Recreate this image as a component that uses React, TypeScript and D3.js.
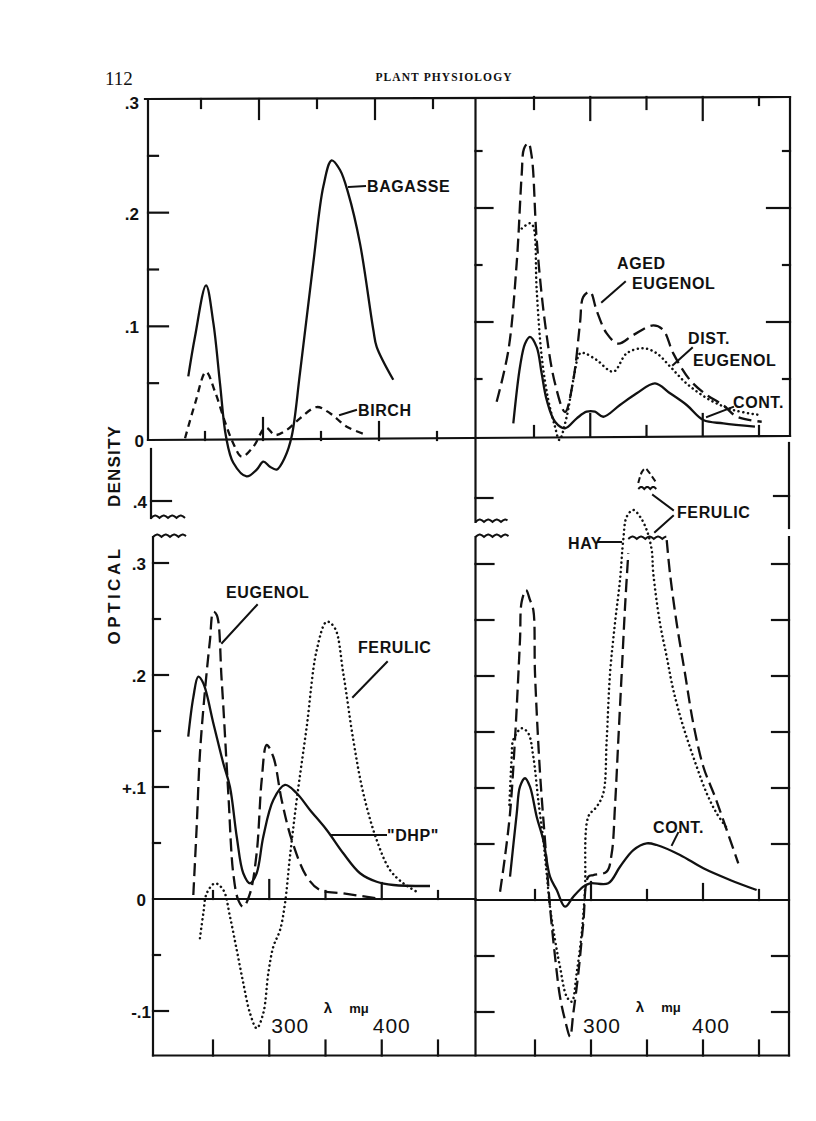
import React from "react";
import * as d3 from "d3";

type Pt = [number, number];

// ---------------- DATA (wavelength in mμ, optical density) ----------------
const wavelengthTicks = [250, 300, 350, 400, 450];
const wavelengthLabels = [300, 400];
const topDensityTicks = [0.05, 0.1, 0.15, 0.2, 0.25];
const topDensityLabels: [number, string][] = [[0.3, ".3"], [0.2, ".2"], [0.1, ".1"], [0, "0"]];
const bottomDensityTicks = [-0.1, -0.05, 0.05, 0.1, 0.15, 0.2, 0.25, 0.3];
const bottomDensityLabels: [number, string][] = [[0.3, ".3"], [0.2, ".2"], [0.1, "+.1"], [0, "0"], [-0.1, "-.1"]];
const breakDensity = 0.4;

// Top-left panel
const bagasse: Pt[] = [
  [235.6, 0.056], [241.4, 0.091], [250.9, 0.136], [257.2, 0.103], [262.9, 0.05], [268.1, 0.003],
  [274.4, -0.02], [285.9, -0.032], [294.6, -0.026], [300.3, -0.019], [306, -0.0235], [311.8, -0.026],
  [319, -0.015], [324.7, 0.003], [331.9, 0.059], [343.4, 0.156], [352, 0.223], [359.2, 0.246],
  [366.4, 0.2375], [373.5, 0.217], [383.6, 0.173], [395.1, 0.097], [398, 0.082], [412.3, 0.053],
];
const birch: Pt[] = [
  [232.8, 0.0015], [241.4, 0.032], [250.9, 0.06], [258.6, 0.0425], [267.2, 0.016], [274.4, -0.003],
  [281.6, -0.0147], [291.6, -0.006], [302.3, 0.011], [310.3, 0.0044], [320.4, 0.0088], [331.9, 0.019],
  [346.3, 0.029], [357.8, 0.0235], [372.2, 0.0117], [389.4, 0.0044],
];

// Top-right panel
const agedEugenol: Pt[] = [
  [216.8, 0.03], [227.2, 0.075], [234.6, 0.1515], [239.1, 0.23], [241.1, 0.252], [244.9, 0.257],
  [248, 0.245], [252.4, 0.172], [259.8, 0.099], [268.7, 0.046], [277.6, 0.021], [284.9, 0.049],
  [290.9, 0.099], [293.8, 0.122], [299.8, 0.1266], [305.7, 0.11], [314.6, 0.09], [324.9, 0.081],
  [338.3, 0.0886], [356, 0.097], [364.9, 0.093], [373.8, 0.0725], [388.7, 0.049], [403.5, 0.036],
  [418.3, 0.027], [430.2, 0.017], [452.4, 0.0125],
];
const distEugenol: Pt[] = [
  [239.1, 0.182], [246.4, 0.1866], [249.4, 0.1836], [252.4, 0.128], [256.8, 0.07], [262.7, 0.0316],
  [268.7, 0.008], [272.5, -0.0035], [279.1, 0.017], [284.9, 0.049], [290.9, 0.0725], [295.3, 0.0725],
  [305.7, 0.0667], [320.5, 0.0564], [332.4, 0.0725], [347.2, 0.077], [359.1, 0.0725], [370.9, 0.061],
  [385.7, 0.046], [406.4, 0.0316], [427.2, 0.0228], [450.9, 0.0184],
];
const contTop: Pt[] = [
  [231.6, 0.011], [237.6, 0.061], [242, 0.081], [246.4, 0.087], [252.4, 0.078], [256.8, 0.055],
  [261.3, 0.0316], [268.7, 0.0125], [277.6, 0.0068], [288, 0.0155], [296.8, 0.0213], [304.2, 0.0213],
  [311.6, 0.0169], [326.4, 0.0272], [341.3, 0.0375], [357.6, 0.0462], [370.9, 0.0375], [385.7, 0.0272],
  [400.5, 0.014], [418.3, 0.0111], [446.4, 0.0082],
];

// Bottom-left panel
const eugenol: Pt[] = [
  [232.5, 0.0036], [235.5, 0.0646], [238.4, 0.13], [242.9, 0.1866], [247.3, 0.231], [250.3, 0.2565],
  [253.3, 0.2536], [257.7, 0.1955], [263.6, 0.0943], [268, 0.0229], [272.5, -0.001], [276.9, -0.007],
  [282.9, 0.005], [288.8, 0.0408], [293.3, 0.1063], [297.7, 0.1375], [303.6, 0.127], [311.1, 0.088],
  [320, 0.0527], [333.3, 0.02], [345.1, 0.008], [365.8, 0.005], [395.5, 0.0006],
];
const dhp: Pt[] = [
  [228, 0.145], [232.5, 0.18], [236.9, 0.1985], [241.4, 0.1926], [250.3, 0.157], [259.2, 0.121],
  [265.1, 0.1], [271.1, 0.0556], [276.9, 0.023], [282.9, 0.014], [288.8, 0.023], [294.7, 0.0556],
  [303.6, 0.0884], [314, 0.1018], [324.4, 0.0944], [336.2, 0.0795], [351.1, 0.0616], [365.8, 0.0408],
  [380.7, 0.023], [395.5, 0.0154], [410.3, 0.0125], [442.9, 0.0116],
];
const ferulicLeft: Pt[] = [
  [238.4, -0.035], [241.4, -0.0128], [244.4, 0.005], [251.8, 0.014], [259.2, 0.008], [265.1, -0.0158],
  [271.1, -0.0455], [276.9, -0.075], [282.9, -0.102], [288.8, -0.1154], [294.7, -0.102], [299.2, -0.066],
  [303.6, -0.0426], [309.6, -0.0277], [314, -0.0038], [318.4, 0.0378], [324.4, 0.0884], [333.3, 0.1538],
  [342.2, 0.2223], [351.1, 0.2476], [358.4, 0.2417], [365.8, 0.2015], [374.7, 0.142], [383.6, 0.0944],
  [395.5, 0.0527], [407.3, 0.0259], [419.2, 0.014], [431.1, 0.0065],
];

// Bottom-right panel
const hay: Pt[] = [
  [227.1, 0.085], [229.2, 0.128], [230.6, 0.143], [238.1, 0.1533], [244, 0.1488], [248.5, 0.128],
  [252.9, 0.0893], [257.4, 0.0536], [260.4, 0.0238], [263.4, -0.006], [267.9, -0.0357], [272.3, -0.0596],
  [278.3, -0.0863], [282.8, -0.0908], [287.2, -0.0654], [291.7, -0.0297], [294.6, 0.0089], [297.6, 0.0744],
  [305.1, 0.0833], [311, 0.0953], [314, 0.1429], [317, 0.2024], [321.4, 0.2471], [325.9, 0.2857],
  [328.8, 0.3214], [331.9, 0.3422], [337.8, 0.3482], [343.8, 0.3422], [349.7, 0.3304], [354.2, 0.3125],
  [355.6, 0.2917], [361.6, 0.2471], [367.6, 0.2172], [373.5, 0.1875], [382.4, 0.1547], [394.4, 0.119],
  [403.3, 0.0953], [412.2, 0.0774], [422.6, 0.0625],
];
const ferulicRise: Pt[] = [
  [218.8, 0.0074], [223.2, 0.0387], [227.7, 0.0774], [232.1, 0.1429], [236.6, 0.2321], [238.1, 0.2663],
  [242, 0.2768], [245.5, 0.2679], [248.5, 0.2589], [250, 0.2024], [254.5, 0.1131], [258.9, 0.0536],
  [263.4, -0.006], [267.9, -0.0506], [272.3, -0.0863], [276.8, -0.1071], [281.3, -0.122], [284.2, -0.1012],
  [288.7, -0.0654], [293.1, -0.0208], [297.6, 0.0208], [302.1, 0.0223], [314, 0.0253], [318.5, 0.0417],
  [321.4, 0.0833], [324.4, 0.1429], [327.4, 0.2024], [330.4, 0.2619], [333.3, 0.3095],
];
const ferulicFall: Pt[] = [
  [367.6, 0.3214], [370.5, 0.2917], [376.5, 0.2471], [383.9, 0.2024], [391.3, 0.1578], [400.3, 0.119],
  [410.7, 0.0922], [421.2, 0.0625], [431.5, 0.0328],
];
const ferulicPeakCap: Pt[] = [[342.2, 0.416], [345.5, 0.426], [348.5, 0.429], [351.5, 0.426], [358.5, 0.416]];
const contBottom: Pt[] = [
  [227.7, 0.0208], [233.7, 0.0774], [236.6, 0.1012], [241.1, 0.1087], [245.5, 0.1012], [251.5, 0.0744],
  [257.4, 0.0536], [263.4, 0.0208], [269.4, 0.0089], [276.8, -0.006], [284.2, 0.0029], [293.1, 0.0119],
  [299.1, 0.0149], [315.4, 0.0149], [325.9, 0.0297], [337.8, 0.0446], [349.7, 0.0506], [358.7, 0.0491],
  [379.5, 0.0402], [400.3, 0.0283], [424.1, 0.0179], [447.9, 0.0089],
];

// ---------------- LAYOUT ----------------
const INK = "#111";
const SW = 2.3;
const SANS = "'Liberation Sans', Arial, Helvetica, sans-serif";
const SERIF = "'Liberation Serif', 'Times New Roman', serif";

const xTL = d3.scaleLinear().domain([250, 450]).range([205, 437]);
const yTL = d3.scaleLinear().domain([0, 0.3]).range([440, 99]);
const xTR = d3.scaleLinear().domain([250, 450]).range([534, 759]);
const yTR = d3.scaleLinear().domain([0, 0.3]).range([436, 94]);
const xBL = d3.scaleLinear().domain([250, 450]).range([213, 438]);
const yBL = d3.scaleLinear().domain([0, 0.3]).range([899, 563]);
const xBR = d3.scaleLinear().domain([250, 450]).range([535, 759]);
const yBR = d3.scaleLinear().domain([0, 0.3]).range([900, 564]);
const yBreak = d3.scaleLinear().domain([0.4, 0.43]).range([501, 467.4]);

const L = { tlLeft: 148, brLeft: 153, mid: 475.5, right: 790, top: 98, bottom: 1055.5 };

function mkLine(x: d3.ScaleLinear<number, number>, y: d3.ScaleLinear<number, number>) {
  return d3
    .line<Pt>()
    .x((d) => x(d[0]))
    .y((d) => y(d[1]))
    .curve(d3.curveCatmullRom.alpha(0.5));
}

function wavy(x0: number, x1: number, y0: number, amp = 2.4, period = 8.5) {
  const pts: [number, number][] = [];
  for (let x = x0; x <= x1; x += 0.5) {
    pts.push([x, y0 - amp * Math.abs(Math.sin((Math.PI * (x - x0)) / period))]);
  }
  return d3.line()(pts) || "";
}

const styles: Record<string, React.SVGProps<SVGPathElement>> = {
  solid: { stroke: INK, strokeWidth: SW, fill: "none", strokeLinejoin: "round" },
  longDash: { stroke: INK, strokeWidth: SW, fill: "none", strokeDasharray: "13 6" },
  shortDash: { stroke: INK, strokeWidth: SW, fill: "none", strokeDasharray: "7 5" },
  dotted: { stroke: INK, strokeWidth: 2.5, fill: "none", strokeDasharray: "0.1 4.6", strokeLinecap: "round" },
};

const Seg = ({ x1, y1, x2, y2, w = 2.2 }: any) => (
  <line x1={x1} y1={y1} x2={x2} y2={y2} stroke={INK} strokeWidth={w} strokeLinecap="square" />
);

const Label = ({ x, y, children, size = 16, anchor = "start", weight = 700, ls = 0.6 }: any) => (
  <text x={x} y={y} fontFamily={SANS} fontSize={size} fontWeight={weight} textAnchor={anchor} letterSpacing={ls} fill={INK}>
    {children}
  </text>
);

export default function App() {
  const lTL = mkLine(xTL, yTL);
  const lTR = mkLine(xTR, yTR);
  const lBL = mkLine(xBL, yBL);
  const lBR = mkLine(xBR, yBR);
  const lCap = mkLine(xBR, yBreak);

  const isMajor = (v: number) => v === 300 || v === 400;
  const isTenth = (v: number) => Math.abs(Math.round(v * 10) - v * 10) < 1e-6;

  return (
    <svg width={816} height={1121} style={{ position: "absolute", left: 0, top: 0, background: "#fff" }}>
      <rect width={816} height={1121} fill="#fff" />

      {/* header */}
      <text x={105} y={85} fontFamily={SERIF} fontSize={19} fill={INK}>112</text>
      <text x={444} y={81} fontFamily={SERIF} fontSize={11.5} fontWeight={700} letterSpacing={1.1} textAnchor="middle" fill={INK}>
        PLANT PHYSIOLOGY
      </text>

      {/* frame */}
      <Seg x1={145} y1={yTL(0.3)} x2={L.right} y2={yTR(0.3) + 3} />
      <Seg x1={L.tlLeft} y1={yTL(0.3)} x2={L.tlLeft} y2={yTL(0)} />
      <Seg x1={L.tlLeft} y1={yTL(0)} x2={L.right} y2={yTR(0)} />
      <Seg x1={L.mid} y1={yTL(0.3)} x2={L.mid} y2={522} />
      <Seg x1={L.mid} y1={537} x2={L.mid} y2={L.bottom} />
      <Seg x1={L.right} y1={yTR(0.3) + 3} x2={L.right} y2={yTR(0)} />
      <Seg x1={L.right - 1} y1={443} x2={L.right - 1} y2={528} />
      <Seg x1={L.right - 1} y1={537} x2={L.right - 1} y2={L.bottom} />
      <Seg x1={L.brLeft - 2} y1={449} x2={L.brLeft - 2} y2={518} />
      <Seg x1={L.brLeft} y1={537} x2={L.brLeft} y2={L.bottom} />
      <Seg x1={L.brLeft} y1={L.bottom} x2={L.right - 1} y2={L.bottom} />
      <Seg x1={L.brLeft} y1={yBL(0)} x2={L.mid} y2={yBL(0)} />
      <Seg x1={L.mid} y1={yBR(0)} x2={L.right - 1} y2={yBR(0)} />

      {/* axis breaks */}
      <path d={wavy(L.brLeft - 2, L.brLeft + 32, 518)} stroke={INK} strokeWidth={2} fill="none" />
      <path d={wavy(L.brLeft, L.brLeft + 33, 537)} stroke={INK} strokeWidth={2} fill="none" />
      <path d={wavy(L.mid, L.mid + 32, 522)} stroke={INK} strokeWidth={2} fill="none" />
      <path d={wavy(L.mid, L.mid + 33, 537)} stroke={INK} strokeWidth={2} fill="none" />

      {/* break ticks (.4) */}
      <Seg x1={L.brLeft - 2} y1={yBreak(breakDensity)} x2={L.brLeft + 18} y2={yBreak(breakDensity)} />
      <Seg x1={L.mid} y1={yBreak(breakDensity) - 3} x2={L.mid + 17} y2={yBreak(breakDensity) - 3} />
      <Seg x1={L.right - 1} y1={yBreak(breakDensity) - 5} x2={L.right - 16} y2={yBreak(breakDensity) - 5} />
      <Label x={147} y={508} size={17} anchor="end" ls={0}>.4</Label>

      {/* ---- ticks: top-left ---- */}
      {wavelengthTicks.map((v) => (
        <g key={"tlt" + v}>
          <Seg x1={xTL(v) - 4} y1={yTL(0.3)} x2={xTL(v) - 4} y2={yTL(0.3) + (isMajor(v) ? 20 : 9)} />
          <Seg x1={xTL(v)} y1={yTL(0)} x2={xTL(v)} y2={yTL(0) - (v === 300 ? 22 : v === 400 ? 18 : 8)} />
        </g>
      ))}
      {topDensityTicks.map((v) => (
        <Seg key={"tll" + v} x1={L.tlLeft} y1={yTL(v)} x2={L.tlLeft + (isTenth(v) ? 20 : 10)} y2={yTL(v)} />
      ))}
      {topDensityLabels.map(([v, t]) => (
        <Label key={"tlb" + v} x={v === 0 ? 144 : 139} y={yTL(v) + (v === 0.3 ? 10 : 7)} size={17} anchor="end" ls={0}>
          {t}
        </Label>
      ))}

      {/* ---- ticks: top-right ---- */}
      {wavelengthTicks.map((v) => (
        <g key={"trt" + v}>
          <Seg x1={xTR(v)} y1={yTR(0.3) + 3} x2={xTR(v)} y2={yTR(0.3) + 3 + (isMajor(v) ? 23 : v === 450 ? 8 : 12)} />
          <Seg x1={xTR(v)} y1={yTR(0)} x2={xTR(v)} y2={yTR(0) - (isMajor(v) ? 22 : 10)} />
        </g>
      ))}
      {topDensityTicks.map((v) => (
        <g key={"trl" + v}>
          <Seg x1={L.mid} y1={yTR(v)} x2={L.mid + (isTenth(v) ? 17 : 6)} y2={yTR(v)} />
          <Seg x1={L.right} y1={yTR(v)} x2={L.right - (isTenth(v) ? 23 : 7)} y2={yTR(v)} />
        </g>
      ))}

      {/* ---- ticks: bottom-left ---- */}
      {wavelengthTicks.map((v) => (
        <g key={"blt" + v}>
          <Seg x1={xBL(v)} y1={yBL(0)} x2={xBL(v)} y2={yBL(0) - (v === 300 ? 19 : v === 400 ? 16 : 8)} />
          <Seg x1={xBL(v)} y1={L.bottom} x2={xBL(v)} y2={L.bottom - 15} />
        </g>
      ))}
      {bottomDensityTicks.map((v) => (
        <Seg key={"bll" + v} x1={L.brLeft} y1={yBL(v)} x2={L.brLeft + (isTenth(v) ? 15 : 7)} y2={yBL(v)} />
      ))}
      {bottomDensityLabels.map(([v, t]) => (
        <Label key={"blb" + v} x={v === -0.1 ? 151 : 146} y={yBL(v) + 7} size={17} anchor="end" ls={0}>
          {t}
        </Label>
      ))}

      {/* ---- ticks: bottom-right ---- */}
      {wavelengthTicks.map((v) => (
        <g key={"brt" + v}>
          <Seg x1={xBR(v)} y1={yBR(0)} x2={xBR(v)} y2={yBR(0) - (v === 300 ? 18 : v === 400 ? 16 : 10)} />
          <Seg x1={xBR(v)} y1={L.bottom} x2={xBR(v)} y2={L.bottom - 15} />
        </g>
      ))}
      {bottomDensityTicks.map((v) => (
        <g key={"brl" + v}>
          <Seg x1={L.mid} y1={yBR(v)} x2={L.mid + 18} y2={yBR(v)} />
          <Seg x1={L.right - 1} y1={yBR(v)} x2={L.right - 18} y2={yBR(v)} />
        </g>
      ))}

      {/* wavelength labels */}
      {wavelengthLabels.map((v) => (
        <g key={"wl" + v}>
          <Label x={xBL(v) + (v === 300 ? 21 : 10)} y={1033} size={21} weight={400} anchor="middle" ls={1}>{String(v)}</Label>
          <Label x={xBR(v) + (v === 300 ? 11 : 8)} y={1033} size={21} weight={400} anchor="middle" ls={1}>{String(v)}</Label>
        </g>
      ))}
      <Label x={328} y={1013} size={15} anchor="middle" ls={0}>λ</Label>
      <Label x={359} y={1013} size={13} anchor="middle" ls={0}>mμ</Label>
      <Label x={640} y={1012} size={15} anchor="middle" ls={0}>λ</Label>
      <Label x={671} y={1012} size={13} anchor="middle" ls={0}>mμ</Label>

      {/* y-axis title */}
      <text transform="translate(120,466) rotate(-90)" fontFamily={SANS} fontSize={17} fontWeight={700} letterSpacing={1.2} textAnchor="middle" fill={INK}>
        DENSITY
      </text>
      <text transform="translate(120,595) rotate(-90)" fontFamily={SANS} fontSize={17} fontWeight={700} letterSpacing={3.5} textAnchor="middle" fill={INK}>
        OPTICAL
      </text>

      {/* ---- curves ---- */}
      <path d={lTL(bagasse) || ""} {...styles.solid} />
      <path d={lTL(birch) || ""} {...styles.shortDash} />

      <path d={lTR(agedEugenol) || ""} {...styles.longDash} />
      <path d={lTR(distEugenol) || ""} {...styles.dotted} />
      <path d={lTR(contTop) || ""} {...styles.solid} />

      <path d={lBL(eugenol) || ""} {...styles.longDash} />
      <path d={lBL(dhp) || ""} {...styles.solid} />
      <path d={lBL(ferulicLeft) || ""} {...styles.dotted} />

      <path d={lBR(hay) || ""} {...styles.dotted} />
      <path d={lBR(ferulicRise) || ""} {...styles.longDash} />
      <path d={lBR(ferulicFall) || ""} {...styles.longDash} />
      <path d={lBR(contBottom) || ""} {...styles.solid} />
      <path d={wavy(xBR(ferulicRise[ferulicRise.length - 1][0]), xBR(ferulicFall[0][0]), 539)} stroke={INK} strokeWidth={2} fill="none" />
      <path d={lCap(ferulicPeakCap) || ""} stroke={INK} strokeWidth={2} fill="none" strokeDasharray="6 3" />
      <path d={wavy(xBR(ferulicPeakCap[0][0]), xBR(ferulicPeakCap[ferulicPeakCap.length - 1][0]), 489, 2, 6)} stroke={INK} strokeWidth={2} fill="none" />

      {/* ---- annotations ---- */}
      <Seg x1={349} y1={187} x2={365} y2={186} w={2} />
      <Label x={367} y={192}>BAGASSE</Label>
      <Seg x1={340} y1={415} x2={356} y2={410} w={2} />
      <Label x={358} y={416}>BIRCH</Label>

      <Seg x1={602} y1={302} x2={625} y2={282} w={2} />
      <Label x={617} y={269}>AGED</Label>
      <Label x={632} y={289}>EUGENOL</Label>
      <Seg x1={673} y1={365} x2={692} y2={348} w={2} />
      <Label x={688} y={344}>DIST.</Label>
      <Label x={693} y={366}>EUGENOL</Label>
      <Seg x1={707} y1={417} x2={733} y2={407} w={2} />
      <Label x={733} y={408}>CONT.</Label>

      <Seg x1={222} y1={643} x2={257} y2={605} w={2} />
      <Label x={226} y={598}>EUGENOL</Label>
      <Seg x1={353} y1={697} x2={387} y2={662} w={2} />
      <Label x={358} y={653}>FERULIC</Label>
      <Seg x1={332} y1={835} x2={386} y2={835} w={2} />
      <Label x={387} y={841}>"DHP"</Label>

      <Seg x1={653} y1={495} x2={673} y2={510} w={2} />
      <Seg x1={655} y1={532} x2={673} y2={516} w={2} />
      <Label x={677} y={518}>FERULIC</Label>
      <Seg x1={598} y1={542} x2={621} y2={542} w={2} />
      <Label x={568} y={549}>HAY</Label>
      <Seg x1={672} y1={845} x2={678} y2={833} w={2} />
      <Label x={653} y={833}>CONT.</Label>
    </svg>
  );
}
